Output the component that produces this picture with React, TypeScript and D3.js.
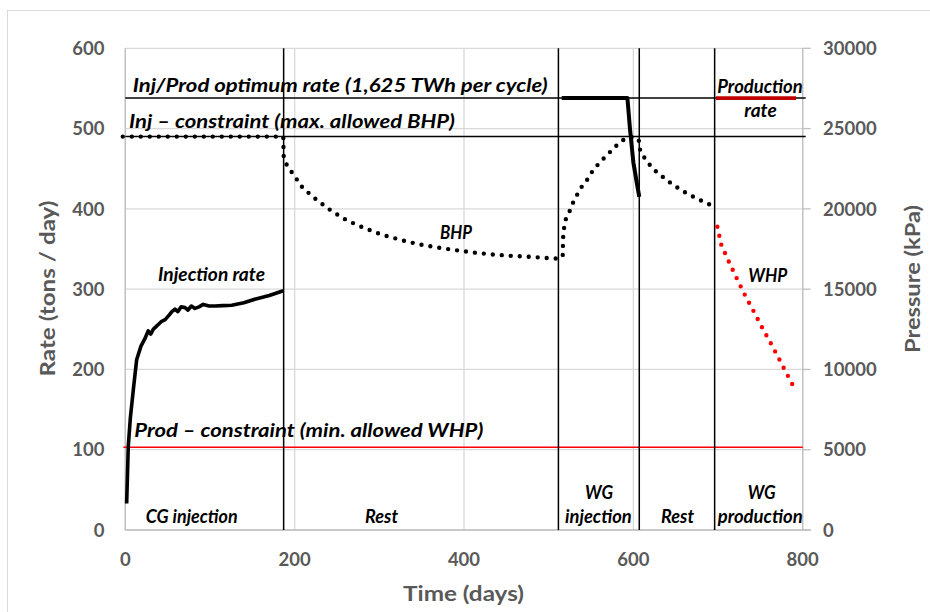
import React from "react";
import * as d3 from "d3";

// CG injection rate (tons/day)
const cgDays = [1.6, 3.5, 6, 9.5, 13.4, 18.5, 23, 27, 30, 33, 36, 39, 43, 47, 52, 55, 58.7, 62, 66, 70.5, 74, 78, 82.3, 87, 92, 99, 106, 115, 125.7, 140, 153, 170, 186.6];
const cgRate = [33, 104, 140, 175, 212, 229, 238, 248, 244, 250, 253, 256, 260, 262, 268, 272, 275, 272, 278, 277, 274, 279, 276, 278, 281, 279, 279, 279.5, 280, 283, 287.5, 292, 298];

// WG injection rate (tons/day)
const wgDays = [515.4, 593, 596, 600, 604, 607];
const wgRate = [538, 538, 500, 458, 433, 415];

// production rate (tons/day)
const prodDays = [697.5, 792];
const prodRate = [538, 538];

// bottom hole pressure (kPa)
const bhpDays = [-3, 186.6, 187, 190, 196.5, 209.5, 226, 243.8, 262.2, 283, 302.8, 324.4, 344.9, 366.6, 388.2, 409.8, 431.5, 453.5, 475.9, 497.7, 510, 516.6, 517, 518, 520, 524.7, 528.6, 533.8, 539.3, 546.4, 552.3, 559, 566.6, 574.5, 582.3, 591.4, 602, 607, 608, 613.8, 620.5, 628.3, 636.6, 645.3, 654.3, 663.7, 674, 683.8, 695];
const bhpKpa = [24500, 24500, 23300, 22800, 22290, 21310, 20560, 19860, 19270, 18790, 18400, 18080, 17810, 17610, 17440, 17290, 17170, 17080, 17020, 16940, 16900, 17040, 18170, 18750, 19330, 19850, 20370, 20900, 21400, 21880, 22400, 22810, 23230, 23650, 24060, 24420, 24480, 24210, 23650, 23120, 22670, 22250, 21920, 21560, 21250, 20940, 20670, 20420, 20150];

// well head pressure (kPa)
const whpDays = [699.2, 703.9, 713, 722.5, 732.3, 742.5, 752.8, 763.5, 773.6, 783.9, 789.5];
const whpKpa = [18890, 17750, 16690, 15630, 14580, 13580, 12540, 11520, 10500, 9460, 8900];

// reference lines
const optimumRate = 538;
const maxBhp = 24500;
const minWhp = 5150;
const phaseBounds = [187, 511.5, 607, 696];

const xTicks = [0, 200, 400, 600, 800];
const rateTicks = [0, 100, 200, 300, 400, 500, 600];
const kpaTicks = [0, 5000, 10000, 15000, 20000, 25000, 30000];

const W = 930;
const H = 612;

const x = d3.scaleLinear().domain([0, 800]).range([125.3, 802.7]);
const yL = d3.scaleLinear().domain([0, 600]).range([530, 48.3]);
const yR = d3.scaleLinear().domain([0, 30000]).range([530, 48.3]);

const zip = (a: number[], b: number[]) => a.map((v, i) => [v, b[i]] as [number, number]);

const rateLine = d3
  .line<[number, number]>()
  .x((d) => x(d[0]))
  .y((d) => yL(d[1]));
const kpaLine = d3
  .line<[number, number]>()
  .x((d) => x(d[0]))
  .y((d) => yR(d[1]));

const FONT = "Lato, 'Open Sans', sans-serif";
const GRID = "#d9d9d9";
const AXIS = "#bfbfbf";
const TICK = "#595959";

// the original text is wider than Lato, so widths are pinned with textLength
const Label = ({ x, y, w, size = 18, anchor = "start", children }: any) => (
  <text
    x={x}
    y={y}
    textAnchor={anchor}
    textLength={w}
    lengthAdjust="spacingAndGlyphs"
    fontFamily={FONT}
    fontSize={size}
    fontWeight="bold"
    fontStyle="italic"
    fill="#000"
  >
    {children}
  </text>
);

export default function App() {
  const x0 = x(0);
  const x1 = x(800);
  const yTop = yL(600);
  const yBot = yL(0);

  return (
    <svg
      width={W}
      height={H}
      style={{ position: "absolute", left: 0, top: 0, background: "#fff" }}
    >
      <rect x={7.5} y={10.5} width={940} height={620} fill="#fff" stroke="#d9d9d9" />

      {/* grid */}
      {rateTicks.map((t) => (
        <line key={"gy" + t} x1={x0} x2={x1} y1={yL(t)} y2={yL(t)} stroke={GRID} strokeWidth={1.3} />
      ))}
      {xTicks.map((t) => (
        <line key={"gx" + t} x1={x(t)} x2={x(t)} y1={yTop} y2={yBot} stroke={GRID} strokeWidth={1.3} />
      ))}

      {/* axes lines */}
      <line x1={x0} x2={x0} y1={yTop} y2={yBot} stroke={AXIS} strokeWidth={1.3} />
      <line x1={x0} x2={x1 + 8} y1={yBot} y2={yBot} stroke={AXIS} strokeWidth={1.3} />
      <line x1={x1} x2={x1} y1={yTop} y2={yBot} stroke={AXIS} strokeWidth={1.3} />
      {kpaTicks.map((t) => (
        <line key={"rt" + t} x1={x1} x2={x1 + 8} y1={yR(t)} y2={yR(t)} stroke={AXIS} strokeWidth={1.3} />
      ))}

      {/* tick labels */}
      {rateTicks.map((t) => (
        <text key={"lt" + t} x={104.5} y={yL(t)} dy="0.36em" textAnchor="end" fontFamily={FONT} fontSize={18.5} fontWeight="bold" fill={TICK}>
          {t}
        </text>
      ))}
      {kpaTicks.map((t) => (
        <text key={"rl" + t} x={823} y={yR(t)} dy="0.36em" textAnchor="start" fontFamily={FONT} fontSize={18.5} fontWeight="bold" fill={TICK}>
          {t}
        </text>
      ))}
      {xTicks.map((t) => (
        <text key={"bt" + t} x={x(t)} y={559.5} dy="0.36em" textAnchor="middle" fontFamily={FONT} fontSize={18.5} fontWeight="bold" fill={TICK}>
          {t}
        </text>
      ))}

      {/* axis titles */}
      <text x={463.5} y={601} textAnchor="middle" textLength={121} lengthAdjust="spacingAndGlyphs" fontFamily={FONT} fontSize={21.5} fontWeight="bold" fill={TICK}>
        Time (days)
      </text>
      <text transform="translate(55,288.5) rotate(-90)" textAnchor="middle" textLength={176} lengthAdjust="spacingAndGlyphs" fontFamily={FONT} fontSize={21.5} fontWeight="bold" fill={TICK}>
        Rate (tons / day)
      </text>
      <text transform="translate(920,279) rotate(-90)" textAnchor="middle" textLength={148} lengthAdjust="spacingAndGlyphs" fontFamily={FONT} fontSize={21.5} fontWeight="bold" fill={TICK}>
        Pressure (kPa)
      </text>

      {/* reference lines */}
      <line x1={x0} x2={x1 + 3} y1={yL(optimumRate)} y2={yL(optimumRate)} stroke="#000" strokeWidth={1.5} />
      <line x1={x0} x2={x1 + 3} y1={yR(maxBhp)} y2={yR(maxBhp)} stroke="#000" strokeWidth={1.5} />
      <line x1={x0 - 2} x2={x1} y1={yR(minWhp)} y2={yR(minWhp)} stroke="#ff0000" strokeWidth={1.5} />
      {phaseBounds.map((d) => (
        <line key={"pb" + d} x1={x(d)} x2={x(d)} y1={yTop} y2={yBot} stroke="#000" strokeWidth={1.5} />
      ))}

      {/* series */}
      <path d={kpaLine(zip(bhpDays, bhpKpa)) || ""} fill="none" stroke="#000" strokeWidth={4.4} strokeLinecap="round" strokeDasharray="0 9" />
      <path d={kpaLine(zip(whpDays, whpKpa)) || ""} fill="none" stroke="#ff0000" strokeWidth={4.4} strokeLinecap="round" strokeDasharray="0 9.2" />
      <path d={rateLine(zip(cgDays, cgRate)) || ""} fill="none" stroke="#000" strokeWidth={3.6} strokeLinejoin="round" />
      <path d={rateLine(zip(wgDays, wgRate)) || ""} fill="none" stroke="#000" strokeWidth={4} strokeLinejoin="round" />
      <path d={rateLine(zip(prodDays, prodRate)) || ""} fill="none" stroke="#c00000" strokeWidth={3.6} />

      {/* annotations */}
      <Label x={132.7} y={91.7} w={415} size={19.5}>Inj/Prod optimum rate (1,625 TWh per cycle)</Label>
      <Label x={129} y={128.3} w={326} size={19.5}>Inj – constraint (max. allowed BHP)</Label>
      <Label x={158} y={281} w={107}>Injection rate</Label>
      <Label x={440} y={239.3} w={32}>BHP</Label>
      <Label x={134.3} y={437} w={349} size={19.5}>Prod – constraint (min. allowed WHP)</Label>
      <Label x={145.7} y={522.7} w={92}>CG injection</Label>
      <Label x={365} y={522.7} w={33}>Rest</Label>
      <Label x={585} y={499.3} w={28}>WG</Label>
      <Label x={565} y={522.7} w={66.7}>injection</Label>
      <Label x={661} y={522.7} w={33}>Rest</Label>
      <Label x={747.7} y={499.3} w={28}>WG</Label>
      <Label x={717.7} y={522.7} w={85}>production</Label>
      <Label x={717.3} y={93.3} w={85.4}>Production</Label>
      <Label x={744.3} y={116.7} w={32.4}>rate</Label>
      <Label x={748.3} y={281.7} w={39}>WHP</Label>
    </svg>
  );
}
